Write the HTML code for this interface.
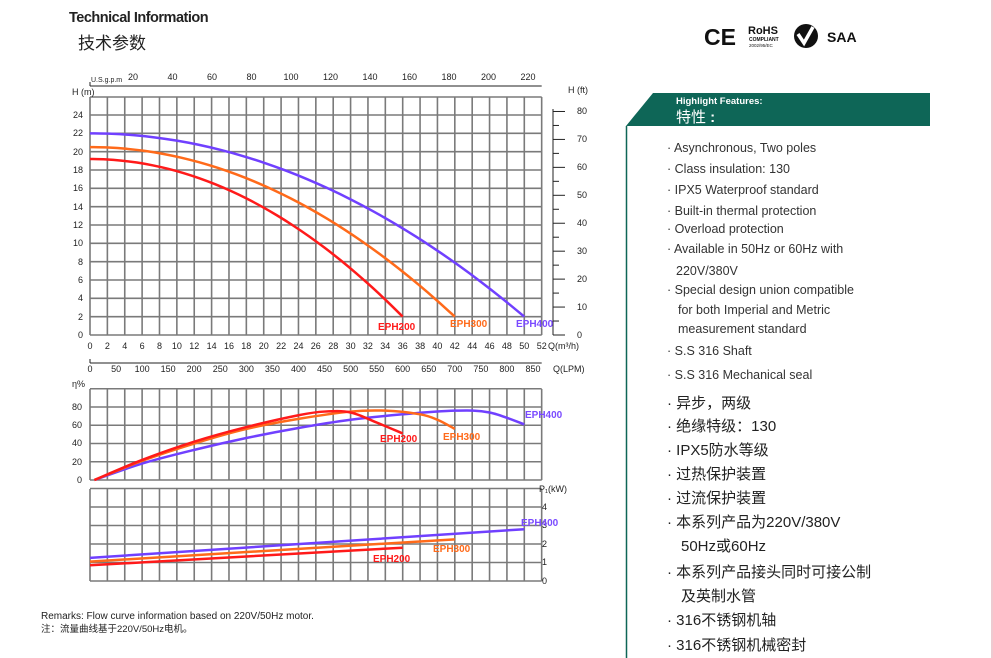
<!DOCTYPE html>
<html><head><meta charset="utf-8"><style>
html,body{margin:0;padding:0;background:#fff}
svg{display:block}
.t{font-family:"Liberation Sans","Noto Sans CJK SC",sans-serif;fill:#222}
.ax{font-family:"Liberation Sans",sans-serif;font-size:9px;fill:#222}
.lb{font-family:"Liberation Sans",sans-serif;font-size:10px;font-weight:bold}
.en{font-family:"Liberation Sans",sans-serif;font-size:12.5px;fill:#333}
.cn{font-family:"Liberation Sans","Noto Sans CJK SC",sans-serif;font-size:15px;fill:#222}
</style></head><body>
<svg id="s" width="993" height="658" viewBox="0 0 993 658" xmlns="http://www.w3.org/2000/svg">
<line x1="992" y1="0" x2="992" y2="658" stroke="#e8b8c0" stroke-width="1.5"/>
<text class="t" x="69" y="22" font-size="14.5" font-weight="bold" letter-spacing="-0.5">Technical Information</text>
<text class="t" x="78" y="49" font-size="17">技术参数</text>

<!-- logos -->
<text x="704" y="45" font-family="Liberation Sans,sans-serif" font-size="23" font-weight="bold" fill="#111">CE</text>
<text x="748" y="34" font-family="Liberation Sans,sans-serif" font-size="11" font-weight="bold" fill="#111">RoHS</text>
<text x="749" y="41" font-family="Liberation Sans,sans-serif" font-size="5" font-weight="bold" fill="#111">COMPLIANT</text>
<text x="749" y="47" font-family="Liberation Sans,sans-serif" font-size="4.5" fill="#111">2002/95/EC</text>
<circle cx="806" cy="36" r="12" fill="#111"/>
<path d="M798 34 L804 43 L813 27" stroke="#fff" stroke-width="3.5" fill="none"/>
<text x="827" y="42" font-family="Liberation Sans,sans-serif" font-size="14" font-weight="bold" fill="#111">SAA</text>

<!-- right panel -->
<polygon points="626,126 653,93 930,93 930,126" fill="#0e6657"/>
<line x1="626.5" y1="126" x2="626.5" y2="658" stroke="#0e6657" stroke-width="1.5"/>
<text x="676" y="104" font-family="Liberation Sans,sans-serif" font-size="9.5" font-weight="bold" fill="#fff">Highlight Features:</text>
<text x="676" y="122" font-family="Liberation Sans,'Noto Sans CJK SC',sans-serif" font-size="15" fill="#fff">特性 <tspan font-weight="bold">:</tspan></text>
<g class="en">
<text x="667" y="152">· Asynchronous, Two poles</text>
<text x="667" y="173">· Class insulation: 130</text>
<text x="667" y="194">· IPX5 Waterproof standard</text>
<text x="667" y="215">· Built-in thermal protection</text>
<text x="667" y="233">· Overload protection</text>
<text x="667" y="253">· Available in 50Hz or 60Hz with</text>
<text x="676" y="275">220V/380V</text>
<text x="667" y="294">· Special design union compatible</text>
<text x="678" y="314">for both Imperial and Metric</text>
<text x="678" y="333">measurement standard</text>
<text x="667" y="355">· S.S 316 Shaft</text>
<text x="667" y="379">· S.S 316 Mechanical seal</text>
</g>
<g class="cn">
<text x="667" y="408">· 异步，两级</text>
<text x="667" y="431">· 绝缘特级：130</text>
<text x="667" y="455">· IPX5防水等级</text>
<text x="667" y="479">· 过热保护装置</text>
<text x="667" y="503">· 过流保护装置</text>
<text x="667" y="527">· 本系列产品为220V/380V</text>
<text x="681" y="551">50Hz或60Hz</text>
<text x="667" y="577">· 本系列产品接头同时可接公制</text>
<text x="681" y="601">及英制水管</text>
<text x="667" y="625">· 316不锈钢机轴</text>
<text x="667" y="650">· 316不锈钢机械密封</text>
</g>

<text class="t" x="41" y="619" font-size="10" fill="#444">Remarks: Flow curve information based on 220V/50Hz motor.</text>
<text class="t" x="41" y="632" font-size="9.5" fill="#444">注：流量曲线基于220V/50Hz电机。</text>

<g id="grid"></g>
<g id="curves"></g>

<!-- top axis -->
<g class="ax">
<text x="91" y="82" font-size="7">U.S.g.p.m</text>
<g text-anchor="middle">
<text x="133" y="80">20</text><text x="172.5" y="80">40</text><text x="212" y="80">60</text><text x="251.5" y="80">80</text><text x="291" y="80">100</text><text x="330.5" y="80">120</text><text x="370" y="80">140</text><text x="409.5" y="80">160</text><text x="449" y="80">180</text><text x="488.5" y="80">200</text><text x="528" y="80">220</text>
</g>
<text x="72" y="95">H (m)</text>
<text x="568" y="93">H (ft)</text>
<g text-anchor="end">
<text x="83" y="338">0</text><text x="83" y="320">2</text><text x="83" y="301">4</text><text x="83" y="283">6</text><text x="83" y="265">8</text><text x="83" y="246">10</text><text x="83" y="228">12</text><text x="83" y="210">14</text><text x="83" y="191">16</text><text x="83" y="173">18</text><text x="83" y="155">20</text><text x="83" y="136">22</text><text x="83" y="118">24</text>
</g>
<g>
<text x="577" y="338">0</text><text x="577" y="310">10</text><text x="577" y="282">20</text><text x="577" y="254">30</text><text x="577" y="226">40</text><text x="577" y="198">50</text><text x="577" y="170">60</text><text x="577" y="142">70</text><text x="577" y="114">80</text>
</g>
<g text-anchor="middle">
<text x="90" y="349">0</text><text x="107.4" y="349">2</text><text x="124.7" y="349">4</text><text x="142.1" y="349">6</text><text x="159.5" y="349">8</text><text x="176.9" y="349">10</text><text x="194.2" y="349">12</text><text x="211.6" y="349">14</text><text x="229" y="349">16</text><text x="246.3" y="349">18</text><text x="263.7" y="349">20</text><text x="281.1" y="349">22</text><text x="298.5" y="349">24</text><text x="315.8" y="349">26</text><text x="333.2" y="349">28</text><text x="350.6" y="349">30</text><text x="367.9" y="349">32</text><text x="385.3" y="349">34</text><text x="402.7" y="349">36</text><text x="420.1" y="349">38</text><text x="437.4" y="349">40</text><text x="454.8" y="349">42</text><text x="472.2" y="349">44</text><text x="489.6" y="349">46</text><text x="506.9" y="349">48</text><text x="524.3" y="349">50</text><text x="541.7" y="349">52</text>
<text x="90" y="372">0</text><text x="116.1" y="372">50</text><text x="142.1" y="372">100</text><text x="168.2" y="372">150</text><text x="194.2" y="372">200</text><text x="220.3" y="372">250</text><text x="246.4" y="372">300</text><text x="272.4" y="372">350</text><text x="298.5" y="372">400</text><text x="324.5" y="372">450</text><text x="350.6" y="372">500</text><text x="376.6" y="372">550</text><text x="402.7" y="372">600</text><text x="428.8" y="372">650</text><text x="454.8" y="372">700</text><text x="480.9" y="372">750</text><text x="506.9" y="372">800</text><text x="533" y="372">850</text>
</g>
<text x="548" y="349">Q(m³/h)</text>
<text x="553" y="372">Q(LPM)</text>
<text x="72" y="387">η%</text>
<g text-anchor="end">
<text x="82" y="483">0</text><text x="82" y="465">20</text><text x="82" y="446">40</text><text x="82" y="428">60</text><text x="82" y="410">80</text>
</g>
<text x="539" y="492">P₁(kW)</text>
<text x="542" y="584">0</text><text x="542" y="565">1</text><text x="542" y="547">2</text><text x="542" y="528">3</text><text x="542" y="510">4</text>
</g>
<g class="lb">
<text x="378" y="330" fill="#ff1a1a">EPH200</text>
<text x="450" y="327" fill="#ff6a1a">EPH300</text>
<text x="516" y="327" fill="#7a4aff">EPH400</text>
<text x="525" y="418" fill="#7a4aff">EPH400</text>
<text x="380" y="442" fill="#ff1a1a">EPH200</text>
<text x="443" y="440" fill="#ff6a1a">EPH300</text>
<text x="521" y="526" fill="#7a4aff">EPH400</text>
<text x="433" y="552" fill="#ff6a1a">EPH300</text>
<text x="373" y="562" fill="#ff1a1a">EPH200</text>
</g>
</svg>
<script>
var NS="http://www.w3.org/2000/svg",g=document.getElementById("grid"),c=document.getElementById("curves");
function L(x1,y1,x2,y2,col,w,p){var l=document.createElementNS(NS,"line");l.setAttribute("x1",x1);l.setAttribute("y1",y1);l.setAttribute("x2",x2);l.setAttribute("y2",y2);l.setAttribute("stroke",col);l.setAttribute("stroke-width",w);(p||g).appendChild(l);}
var X=function(q){return 90+q*8.686;};
var gc="#7a7a7a",gw=1.6;
for(var q=0;q<=52;q+=2){L(X(q),97,X(q),335,gc,gw);}
for(var h=0;h<=24;h+=2){L(90,335-h*9.167,541.7,335-h*9.167,gc,gw);}
L(90,97,541.7,97,gc,gw);
L(90,86,541.7,86,"#222",1);
L(90,82,90,86,"#222",1);
L(90,363,541.7,363,"#222",1);L(90,359,90,363,"#222",1);
L(553,109,553,335,"#222",1);
for(var f=0;f<=80;f+=5){var y=335-f*2.794;L(553,y,f%10==0?565:559,y,"#222",1);}
for(q=0;q<=52;q+=2){L(X(q),389,X(q),480,gc,gw);}
for(var e=0;e<=100;e+=20){L(90,480-e*0.9125,541.7,480-e*0.9125,gc,gw);}
for(q=0;q<=52;q+=2){L(X(q),489,X(q),581,gc,gw);}
for(var p=0;p<=5;p++){L(90,581-p*18.5,541.7,581-p*18.5,gc,gw);}
function path(pts,col,w){var d="";
 for(var i=0;i<pts.length;i++){if(i==0){d+="M"+pts[0][0]+" "+pts[0][1];continue;}
  var p0=pts[Math.max(i-2,0)],p1=pts[i-1],p2=pts[i],p3=pts[Math.min(i+1,pts.length-1)];
  d+=" C"+(p1[0]+(p2[0]-p0[0])/6)+" "+(p1[1]+(p2[1]-p0[1])/6)+" "+(p2[0]-(p3[0]-p1[0])/6)+" "+(p2[1]-(p3[1]-p1[1])/6)+" "+p2[0]+" "+p2[1];}
 var e=document.createElementNS(NS,"path");e.setAttribute("d",d);e.setAttribute("fill","none");e.setAttribute("stroke",col);e.setAttribute("stroke-width",w);c.appendChild(e);}
var R="#ff1a1a",O="#ff6a1a",P="#7040ff";
function H(h0,qmax){var a=[];var k=(h0-2)/(qmax*qmax);for(var q=0;q<=qmax+0.01;q+=qmax/20)a.push([X(q),335-(h0-k*q*q)*9.167]);return a;}
path(H(22,50),P,2.5);path(H(20.5,42),O,2.5);path(H(19.2,36),R,2.5);
function E(pts){return pts.map(function(a){return [X(a[0]),480-a[1]*0.9125];});}
path(E([[0.5,0],[6,18],[12,33],[18,46],[24,57],[30,66],[36,72],[42,76],[46,74],[50,61]]),P,2.5);
path(E([[0.5,0],[6,21],[12,40],[18,56],[24,67],[30,75],[34,76],[38,72],[40,66],[42,56]]),O,2.5);
path(E([[0.5,0],[6,22],[12,42],[18,58],[24,71],[27,75],[30,74],[33,63],[36,51]]),R,2.5);
function Pw(a,b,qm){return [[X(0),581-a*18.5],[X(qm),581-b*18.5]];}
path(Pw(1.25,2.8,50),P,2.5);path(Pw(1.05,2.25,42),O,2.5);path(Pw(0.85,1.8,36),R,2.5);
</script>
</body></html>
